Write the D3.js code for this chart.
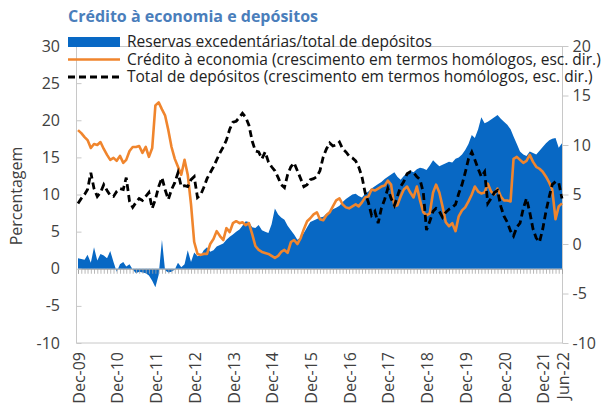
<!DOCTYPE html>
<html>
<head>
<meta charset="utf-8">
<script src="https://cdn.jsdelivr.net/npm/d3@7"></script>
<style>
  body { margin: 0; background: #fff; }
  svg { font-family: "Open Sans", sans-serif; }
</style>
</head>
<body>
<svg id="chart"></svg>
<script>
// Monthly series, Dec-09 .. Jun-22
const startMonth = new Date(2009, 11, 1);
const endMonth = new Date(2022, 5, 1);

// Reservas excedentárias / total de depósitos (left axis, %)
const reservas = [
  1.4, 1.3, 1.2, 1.9, 0.8, 2.9, 1.1, 2.0, 1.8, 1.4, 2.4, 0.9, -0.4, 0.6, 0.9, 0.3, 0.6, -0.1, -0.6, -0.4,
  -0.5, -0.6, -0.9, -1.6, -2.5, -0.8, 3.9, -0.2, -0.5, -0.4, -0.1, 0.8, 0.2, 0.6, 2.5, 0.9, 2.2, 1.7, 1.8, 2.5,
  2.9, 2.3, 2.5, 3.0, 3.2, 3.4, 3.9, 4.3, 4.6, 5.0, 5.3, 5.8, 6.4, 6.3, 5.6, 5.5, 5.9, 5.2, 5.0, 4.8,
  6.0, 8.1, 7.3, 6.9, 6.6, 5.8, 5.2, 4.6, 3.9, 4.2, 4.8, 5.6, 6.3, 6.5, 6.7, 6.9, 7.0, 7.4, 7.7, 8.0,
  8.2, 8.5, 9.0, 9.4, 9.7, 10.0, 10.1, 9.8, 9.6, 10.1, 10.4, 10.8, 11.1, 11.4, 11.7, 12.1, 12.4, 12.7, 13.0, 12.4,
  12.0, 12.5, 12.9, 13.2, 13.0, 13.4, 13.6, 13.5, 13.3, 13.9, 14.6, 14.2, 13.8, 14.0, 14.2, 14.4, 14.3, 14.8, 15.0, 15.4,
  16.0, 16.8, 18.0, 17.6, 18.8, 20.4, 19.6, 19.8, 20.1, 20.4, 20.7, 20.2, 19.8, 19.4, 18.8, 17.8, 16.8, 15.8, 15.4, 15.2,
  15.8, 15.6, 15.4, 15.9, 16.4, 16.9, 17.3, 17.5, 17.6, 16.3, 16.9
];

// Crédito à economia, yoy growth (right axis, %)
const credito = [
  11.5, 11.2, 10.8, 10.5, 9.7, 10.1, 10.0, 10.3, 9.6, 9.0, 8.5, 8.7, 8.4, 8.9, 8.2, 8.5, 9.4, 9.8, 9.8, 9.9,
  9.2, 9.8, 8.8, 9.7, 14.0, 14.3, 13.6, 13.0, 11.5, 9.8, 8.6, 7.8, 7.0, 8.5, 7.0, 4.0, 0.2, -1.0, -1.1, -1.0,
  -1.0, 0.0, 0.5, 1.3, 0.8, 0.4, 1.6, 1.2, 2.1, 2.3, 2.1, 2.2, 1.9, 2.1, 1.0, -0.2, -0.6, -0.8, -0.9, -1.0,
  -1.2, -1.4, -1.2, -0.8, -0.6, -0.9, 0.2, 0.4, 0.0, 0.6, 1.5, 2.3, 2.6, 3.0, 3.2, 2.5, 2.4, 2.9, 3.2, 3.8,
  4.4, 4.6, 4.0, 3.7, 3.6, 3.8, 4.0, 3.8, 4.2, 4.7, 4.8, 5.5, 5.4, 5.6, 5.8, 5.9, 6.4, 6.0, 3.8, 3.9,
  4.8, 5.5, 5.8, 5.2, 4.7, 5.8, 4.4, 3.2, 2.9, 3.1, 5.2, 6.0, 5.2, 3.8, 2.2, 1.8, 2.1, 1.3, 2.8, 3.4,
  3.7, 4.3, 5.0, 5.8, 5.3, 5.1, 5.2, 6.1, 5.3, 5.0, 5.6, 4.8, 4.4, 4.4, 4.3, 8.6, 8.8, 8.5, 8.2, 8.4,
  9.0, 8.3, 7.8, 7.6, 7.3, 6.8, 6.2, 5.5, 2.5, 3.8, 4.1
];

// Total de depósitos, yoy growth (right axis, %)
const depositos = [
  4.1, 4.6, 5.0, 5.5, 7.2, 5.6, 4.8, 5.2, 6.0, 5.4, 4.9, 4.8, 5.3, 5.6, 5.5, 6.7, 4.3, 3.7, 4.2, 4.6,
  4.4, 4.8, 5.2, 3.6, 4.5, 5.8, 6.7, 5.5, 4.5, 5.5, 6.2, 7.2, 5.8, 5.9, 5.8, 6.5, 6.8, 4.7, 5.0, 5.7,
  6.6, 7.2, 7.8, 8.5, 9.2, 9.8, 10.5, 11.6, 12.3, 12.4, 12.8, 13.2, 12.8, 12.0, 10.4, 9.4, 9.3, 8.6, 9.3, 8.3,
  7.8, 7.4, 6.7, 6.0, 5.7, 7.0, 7.8, 8.2, 7.4, 6.6, 5.8, 6.0, 6.5, 6.6, 6.8, 7.4, 8.8, 9.6, 10.2, 9.9,
  10.0, 10.3, 9.6, 9.3, 8.9, 8.7, 8.4, 7.8, 6.8, 5.2, 4.2, 2.9, 3.3, 2.1, 3.6, 4.5, 5.6, 4.6, 3.9, 4.8,
  5.8, 6.3, 7.1, 7.3, 7.2, 6.8, 6.5, 5.2, 1.4, 2.3, 3.3, 3.6, 3.3, 2.7, 3.2, 3.5, 3.7, 4.0, 5.1, 6.0,
  7.2, 8.6, 9.3, 8.5, 7.6, 6.8, 7.3, 4.1, 4.6, 5.2, 5.4, 3.8, 2.8, 2.2, 1.3, 0.8, 1.7, 2.1, 3.6, 4.6,
  3.2, 1.5, 0.6, 0.2, 1.5, 3.3, 4.8, 6.0, 6.3, 6.2, 4.6
];

const leftTicks = [-10, -5, 0, 5, 10, 15, 20, 25, 30];
const rightTicks = [-10, -5, 0, 5, 10, 15, 20];
const labelDates = [
  "2009-12", "2010-12", "2011-12", "2012-12", "2013-12", "2014-12", "2015-12",
  "2016-12", "2017-12", "2018-12", "2019-12", "2020-12", "2021-12", "2022-06"
];

const legendItems = [
  { label: "Reservas excedentárias/total de depósitos", kind: "area" },
  { label: "Crédito à economia (crescimento em termos homólogos, esc. dir.)", kind: "orange" },
  { label: "Total de depósitos (crescimento em termos homólogos, esc. dir.)", kind: "dash" }
];

const width = 615, height = 409;
const blue = "#0868c4", orange = "#f0852d", frame = "#c8c8c8", textCol = "#404040";

const svg = d3.select("#chart").attr("width", width).attr("height", height);

const months = d3.timeMonth.range(startMonth, d3.timeMonth.offset(endMonth, 1));
const parseMonth = d3.timeParse("%Y-%m");

const x = d3.scaleTime().domain([startMonth, endMonth]).range([78, 562]);
const yL = d3.scaleLinear().domain([-10, 30]).range([343, 46]);
const yR = d3.scaleLinear().domain([-10, 20]).range([343, 46]);

// title
svg.append("text")
  .attr("x", 68).attr("y", 22)
  .attr("fill", "#4a7ebb")
  .attr("font-size", 16).attr("font-weight", "bold")
  .text("Crédito à economia e depósitos");

// frame
svg.append("rect")
  .attr("x", 76.5).attr("y", 46.5)
  .attr("width", 562.5 - 76.5).attr("height", 343 - 46.5)
  .attr("fill", "none").attr("stroke", frame).attr("stroke-width", 1);

// area (left axis)
const area = d3.area()
  .x((d, i) => x(months[i]))
  .y0(yL(0))
  .y1(d => yL(d));
svg.append("path")
  .datum(reservas)
  .attr("d", area)
  .attr("fill", blue);

// monthly category ticks on zero line
const xAxis = d3.axisBottom(x)
  .ticks(d3.timeMonth.every(1))
  .tickSize(5)
  .tickFormat("");
const xg = svg.append("g")
  .attr("transform", `translate(0,${yL(0)})`)
  .call(xAxis);
xg.select(".domain").attr("stroke", "#a6a6a6");
xg.selectAll(".tick line").attr("stroke", "#a6a6a6").attr("stroke-width", 0.8);

// x labels
svg.append("g")
  .selectAll("text")
  .data(labelDates.map(parseMonth))
  .join("text")
  .attr("transform", d => `translate(${x(d) + 1},352) rotate(-90)`)
  .attr("text-anchor", "end")
  .attr("dy", "0.35em")
  .attr("font-size", 16)
  .attr("fill", textCol)
  .text(d => d3.timeFormat("%b-%y")(d));

// lines (right axis)
const line = d3.line()
  .x((d, i) => x(months[i]))
  .y(d => yR(d));

svg.append("path")
  .datum(credito)
  .attr("d", line)
  .attr("fill", "none")
  .attr("stroke", orange)
  .attr("stroke-width", 2.6)
  .attr("stroke-linejoin", "round");

svg.append("path")
  .datum(depositos)
  .attr("d", line)
  .attr("fill", "none")
  .attr("stroke", "#000")
  .attr("stroke-width", 2.8)
  .attr("stroke-dasharray", "7,4");

// left axis
const leftAxis = d3.axisRight(yL).tickValues(leftTicks).tickSize(5).tickFormat("");
const lg = svg.append("g").attr("transform", "translate(76.5,0)").call(leftAxis);
lg.select(".domain").remove();
lg.selectAll(".tick line").attr("stroke", frame);
svg.append("g")
  .selectAll("text")
  .data(leftTicks)
  .join("text")
  .attr("x", 60).attr("y", d => yL(d))
  .attr("dy", "0.35em")
  .attr("text-anchor", "end")
  .attr("font-size", 16)
  .attr("fill", textCol)
  .text(d => d);

// right axis
const rightAxis = d3.axisRight(yR).tickValues(rightTicks).tickSize(6).tickFormat(d => d);
const rg = svg.append("g").attr("transform", "translate(562.5,0)").call(rightAxis);
rg.select(".domain").remove();
rg.selectAll(".tick line").attr("stroke", frame);
rg.selectAll(".tick text")
  .attr("x", 10)
  .attr("font-size", 16)
  .attr("font-family", "Open Sans, sans-serif")
  .attr("fill", textCol);

// y title
svg.append("text")
  .attr("transform", "translate(22,196) rotate(-90)")
  .attr("text-anchor", "middle")
  .attr("font-size", 16)
  .attr("fill", textCol)
  .text("Percentagem");

// legend
const leg = svg.append("g");
legendItems.forEach((item, i) => {
  const cy = 42 + i * 17.5;
  if (item.kind === "area") {
    leg.append("rect").attr("x", 68).attr("y", cy - 5).attr("width", 52).attr("height", 10).attr("fill", blue);
  } else if (item.kind === "orange") {
    leg.append("line").attr("x1", 68).attr("x2", 120).attr("y1", cy).attr("y2", cy)
      .attr("stroke", orange).attr("stroke-width", 2.6);
  } else {
    leg.append("line").attr("x1", 68).attr("x2", 120).attr("y1", cy).attr("y2", cy)
      .attr("stroke", "#000").attr("stroke-width", 2.8).attr("stroke-dasharray", "7,4");
  }
  leg.append("text")
    .attr("x", 127).attr("y", cy)
    .attr("dy", "0.35em")
    .attr("font-size", 15.5)
    .attr("fill", "#222")
    .text(item.label);
});
</script>
</body>
</html>
